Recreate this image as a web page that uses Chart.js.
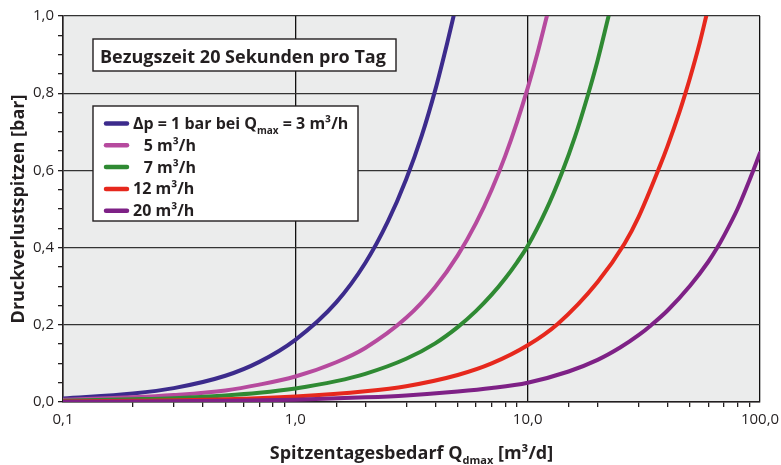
<!DOCTYPE html>
<html>
<head>
<meta charset="utf-8">
<script src="https://cdn.jsdelivr.net/npm/chart.js@4.4.1/dist/chart.umd.min.js"></script>
<style>
  html, body { margin: 0; padding: 0; background: #fff; }
</style>
</head>
<body>
<canvas id="chart" width="781" height="465"></canvas>
<script>
// Spitzentagesbedarf [m3/d] und Druckverlustspitzen [bar] je Zähler-Nenndurchfluss
const q3 = [0.1, 0.2, 0.3, 0.5, 0.7, 1, 1.5, 2, 2.5, 3, 3.5, 4, 4.5, 4.8];
const p3 = [0.009, 0.022, 0.036, 0.068, 0.104, 0.161, 0.258, 0.36, 0.467, 0.577, 0.69, 0.808, 0.929, 1.0];

const q5 = [0.1, 0.2, 0.3, 0.5, 0.7, 1, 1.5, 2, 3, 4, 5, 6, 7, 8, 9, 10, 11, 12.1];
const p5 = [0.006, 0.012, 0.018, 0.03, 0.045, 0.066, 0.103, 0.14, 0.218, 0.298, 0.38, 0.464, 0.55, 0.637, 0.725, 0.813, 0.902, 1.0];

const q7 = [0.1, 0.2, 0.3, 0.5, 0.7, 1, 1.5, 2, 3, 4, 5, 6, 7, 8, 9, 10, 12, 14, 16, 18, 20, 22.3];
const p7 = [0.003, 0.007, 0.01, 0.017, 0.024, 0.035, 0.054, 0.073, 0.112, 0.152, 0.194, 0.236, 0.278, 0.32, 0.362, 0.404, 0.497, 0.592, 0.688, 0.787, 0.885, 1.0];

const q12 = [0.1, 0.2, 0.5, 1, 2, 3, 5, 7, 10, 13.5, 20, 26.1, 30, 37, 40, 45, 48.2, 50, 55, 58.7];
const p12 = [0.0015, 0.003, 0.007, 0.0145, 0.028, 0.041, 0.07, 0.1, 0.147, 0.203, 0.311, 0.41, 0.479, 0.61, 0.663, 0.751, 0.808, 0.84, 0.93, 1.0];

const q20 = [0.1, 0.2, 0.5, 1, 2, 3, 5, 7, 10, 15, 20, 25, 30, 34, 40, 50, 60, 65.5, 70, 80, 90, 100];
const p20 = [0.0006, 0.0012, 0.003, 0.006, 0.012, 0.017, 0.027, 0.036, 0.05, 0.079, 0.109, 0.141, 0.173, 0.199, 0.237, 0.301, 0.364, 0.4, 0.431, 0.5, 0.574, 0.645];

const seriesLabels = [
  'Δp = 1 bar bei Q_{max} = 3 m³/h',
  '\u2007\u200a5 m³/h',
  '\u2007\u200a7 m³/h',
  '12 m³/h',
  '20 m³/h'
];
const seriesColors = ['#3c2b8c', '#b64a9e', '#2f8a33', '#e6281d', '#7e2186'];

const boxTitle = 'Bezugszeit 20 Sekunden pro Tag';
const xTitle = 'Spitzentagesbedarf Q_{dmax} [m³/d]';
const yTitle = 'Druckverlustspitzen [bar]';

const FONT = '"Open Sans", "DejaVu Sans", sans-serif';
const INK = '#231f20';

const pairs = (xs, ys) => xs.map((x, i) => ({ x: x, y: ys[i] }));
const seriesData = [pairs(q3, p3), pairs(q5, p5), pairs(q7, p7), pairs(q12, p12), pairs(q20, p20)];

const isDecade = v => Math.abs(Math.log10(v) - Math.round(Math.log10(v))) < 1e-6;
const isFifth = v => Math.abs(v * 5 - Math.round(v * 5)) < 1e-6;
const comma = (v, d) => v.toFixed(d).replace('.', ',');

// text with _{...} parts set as subscript
function drawRich(ctx, str, x, y, size, align) {
  const parts = str.split(/_\{([^}]*)\}/).map((t, i) => ({ t: t, sub: i % 2 === 1 }));
  const subSize = Math.round(size * 0.62);
  let total = 0;
  parts.forEach(p => {
    ctx.font = 'bold ' + (p.sub ? subSize : size) + 'px ' + FONT;
    p.w = ctx.measureText(p.t).width;
    total += p.w;
  });
  let cx = align === 'center' ? x - total / 2 : x;
  ctx.textAlign = 'left';
  ctx.textBaseline = 'alphabetic';
  parts.forEach(p => {
    ctx.font = 'bold ' + (p.sub ? subSize : size) + 'px ' + FONT;
    ctx.fillText(p.t, cx, p.sub ? y + size * 0.3 : y);
    cx += p.w;
  });
}

const decor = {
  id: 'decor',
  beforeDraw(chart) {
    const { ctx, chartArea: a } = chart;
    ctx.save();
    ctx.fillStyle = '#ebecec';
    ctx.fillRect(a.left, a.top, a.right - a.left, a.bottom - a.top);
    ctx.restore();
  },
  afterDraw(chart) {
    const { ctx, chartArea: a } = chart;
    ctx.save();
    ctx.fillStyle = INK;
    ctx.strokeStyle = INK;
    ctx.lineWidth = 1.4;

    // title box
    const tx = a.left + 30, ty = a.top + 23;
    ctx.fillStyle = '#fff';
    ctx.fillRect(tx, ty, 303, 32);
    ctx.strokeRect(tx, ty, 303, 32);
    ctx.fillStyle = INK;
    drawRich(ctx, boxTitle, tx + 7, ty + 23.5, 18, 'left');

    // legend box
    const lx = a.left + 30, ly = a.top + 90;
    ctx.fillStyle = '#fff';
    ctx.fillRect(lx, ly, 265, 115);
    ctx.strokeRect(lx, ly, 265, 115);
    seriesLabels.forEach((label, i) => {
      const rowY = ly + 17.5 + i * 21.8;
      ctx.strokeStyle = seriesColors[i];
      ctx.lineWidth = 4.5;
      ctx.lineCap = 'round';
      ctx.beginPath();
      ctx.moveTo(lx + 13, rowY);
      ctx.lineTo(lx + 34, rowY);
      ctx.stroke();
      ctx.fillStyle = INK;
      drawRich(ctx, label, lx + 40, rowY + 5.5, 16, 'left');
    });

    // x axis title
    ctx.fillStyle = INK;
    drawRich(ctx, xTitle, (a.left + a.right) / 2, 459, 18, 'center');
    ctx.restore();
  }
};

const datasets = seriesData.map((d, i) => ({
  label: seriesLabels[i],
  data: d,
  borderColor: seriesColors[i],
  backgroundColor: seriesColors[i],
  borderWidth: 4,
  borderCapStyle: 'round',
  pointRadius: 0,
  cubicInterpolationMode: 'monotone',
  fill: false,
  order: seriesData.length - i
}));

new Chart(document.getElementById('chart').getContext('2d'), {
  type: 'line',
  data: { datasets: datasets },
  options: {
    responsive: false,
    animation: false,
    layout: { padding: { top: 16, right: 21, left: 0, bottom: 0 } },
    plugins: { legend: { display: false }, tooltip: { enabled: false } },
    scales: {
      x: {
        type: 'logarithmic',
        min: 0.1,
        max: 100,
        afterFit: s => { s.height = 63; s.paddingLeft = 0; s.paddingRight = 0; },
        border: { color: INK, width: 1.5 },
        grid: {
          color: c => (c.tick && isDecade(c.tick.value) ? '#111' : 'rgba(0,0,0,0)'),
          lineWidth: 1.3,
          drawTicks: true,
          tickLength: 5,
          tickColor: c => (c.tick && isDecade(c.tick.value) ? 'rgba(0,0,0,0)' : INK)
        },
        ticks: {
          autoSkip: false,
          maxRotation: 0,
          padding: 4,
          color: INK,
          font: { family: FONT, size: 15 },
          callback: v => (isDecade(v) ? comma(v, 1) : '')
        }
      },
      y: {
        min: 0,
        max: 1,
        afterFit: s => { s.width = 63; s.paddingTop = 0; s.paddingBottom = 0; },
        border: { color: INK, width: 1.5 },
        grid: {
          color: c => (isFifth(c.tick.value) ? '#333' : 'rgba(0,0,0,0)'),
          lineWidth: 1.3,
          drawTicks: true,
          tickLength: 5,
          tickColor: INK
        },
        ticks: {
          stepSize: 0.05,
          autoSkip: false,
          padding: 4,
          color: INK,
          font: { family: FONT, size: 15 },
          callback: v => (isFifth(v) ? comma(v, 1) : '')
        },
        title: {
          display: true,
          text: yTitle,
          color: INK,
          padding: { top: 8, bottom: 0 },
          font: { family: FONT, size: 18, weight: 'bold' }
        }
      }
    }
  },
  plugins: [decor]
});
</script>
</body>
</html>
